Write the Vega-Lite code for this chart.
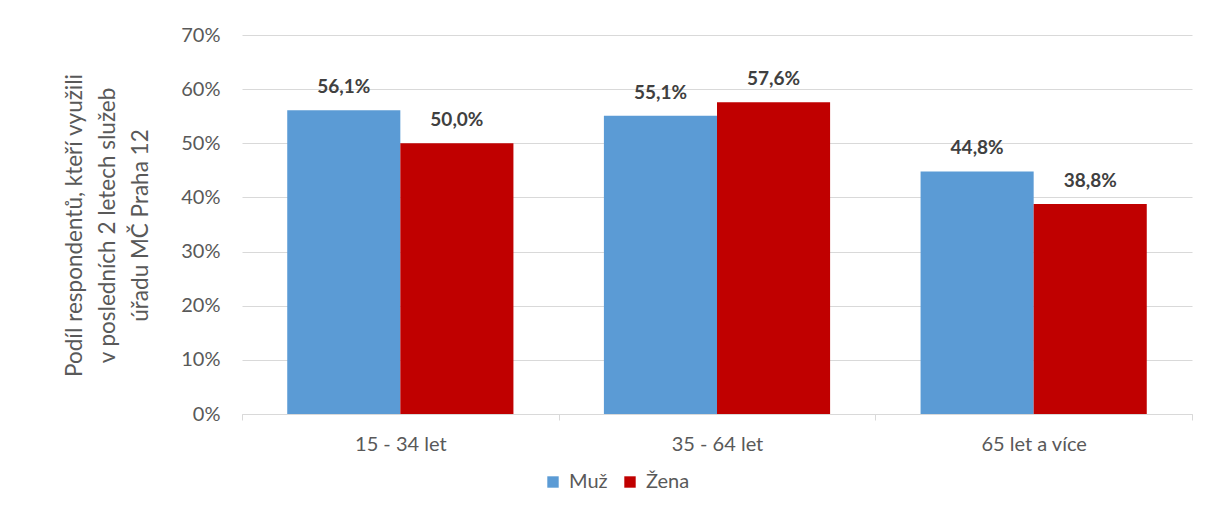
{
  "$schema": "https://vega.github.io/schema/vega-lite/v6.json",
  "width": 950,
  "height": 379,
  "autosize": {"type": "none"},
  "padding": {"left": 242, "top": 35, "right": 16, "bottom": 94},
  "background": "white",
  "config": {
    "view": {"stroke": null},
    "font": "Lato",
    "locale": {"number": {"decimal": ",", "thousands": " ", "grouping": [3], "currency": ["", " Kč"]}}
  },
  "data": {
    "values": [
      {"vek": "15 - 34 let", "pohlavi": "Muž", "podil": 0.561},
      {"vek": "15 - 34 let", "pohlavi": "Žena", "podil": 0.500},
      {"vek": "35 - 64 let", "pohlavi": "Muž", "podil": 0.551},
      {"vek": "35 - 64 let", "pohlavi": "Žena", "podil": 0.576},
      {"vek": "65 let a více", "pohlavi": "Muž", "podil": 0.448},
      {"vek": "65 let a více", "pohlavi": "Žena", "podil": 0.388}
    ]
  },
  "encoding": {
    "x": {
      "field": "vek",
      "type": "nominal",
      "sort": null,
      "scale": {"paddingInner": 0, "paddingOuter": 0},
      "axis": {
        "title": null,
        "labelAngle": 0,
        "labelFont": "Lato",
        "labelFontSize": 20,
        "labelColor": "#595959",
        "labelPadding": 14,
        "domainColor": "#d9d9d9",
        "domainWidth": 1,
        "tickColor": "#d9d9d9",
        "tickSize": 6,
        "tickBand": "extent",
        "grid": false
      }
    },
    "xOffset": {
      "field": "pohlavi",
      "type": "nominal",
      "sort": ["Muž", "Žena"],
      "scale": {"paddingInner": 0, "paddingOuter": 0.4}
    },
    "y": {
      "field": "podil",
      "type": "quantitative",
      "scale": {"domain": [0, 0.7], "nice": false},
      "axis": {
        "format": ".0%",
        "values": [0, 0.1, 0.2, 0.3, 0.4, 0.5, 0.6, 0.7],
        "domain": false,
        "ticks": false,
        "tickSize": 0,
        "labelPadding": 22,
        "labelFont": "Lato",
        "labelFontSize": 20,
        "labelColor": "#595959",
        "gridColor": "#d9d9d9",
        "gridWidth": 1,
        "title": ["Podíl respondentů, kteří využili", "v posledních 2 letech služeb", "úřadu MČ Praha 12"],
        "titleFont": "Lato",
        "titleFontSize": 22.5,
        "titleFontWeight": "normal",
        "titleColor": "#595959",
        "titleLineHeight": 33,
        "titleAngle": -90,
        "titleAlign": "center",
        "titleBaseline": "middle",
        "titleX": -168,
        "titleY": 190
      }
    }
  },
  "layer": [
    {
      "mark": {"type": "bar"},
      "encoding": {
        "color": {
          "field": "pohlavi",
          "type": "nominal",
          "scale": {"domain": ["Muž", "Žena"], "range": ["#5B9BD5", "#C00000"]},
          "legend": {
            "title": null,
            "orient": "none",
            "legendX": 301,
            "legendY": 437,
            "direction": "horizontal",
            "symbolType": "square",
            "symbolSize": 130,
            "symbolStrokeWidth": 0,
            "labelFont": "Lato",
            "labelFontSize": 20,
            "labelColor": "#595959",
            "columnPadding": 12,
            "labelOffset": 6
          }
        }
      }
    },
    {
      "mark": {"type": "text", "baseline": "bottom", "dy": -13, "fontWeight": "bold", "fontSize": 19, "color": "#404040", "font": "Lato"},
      "encoding": {
        "text": {"field": "podil", "type": "quantitative", "format": ".1%"}
      }
    }
  ]
}
